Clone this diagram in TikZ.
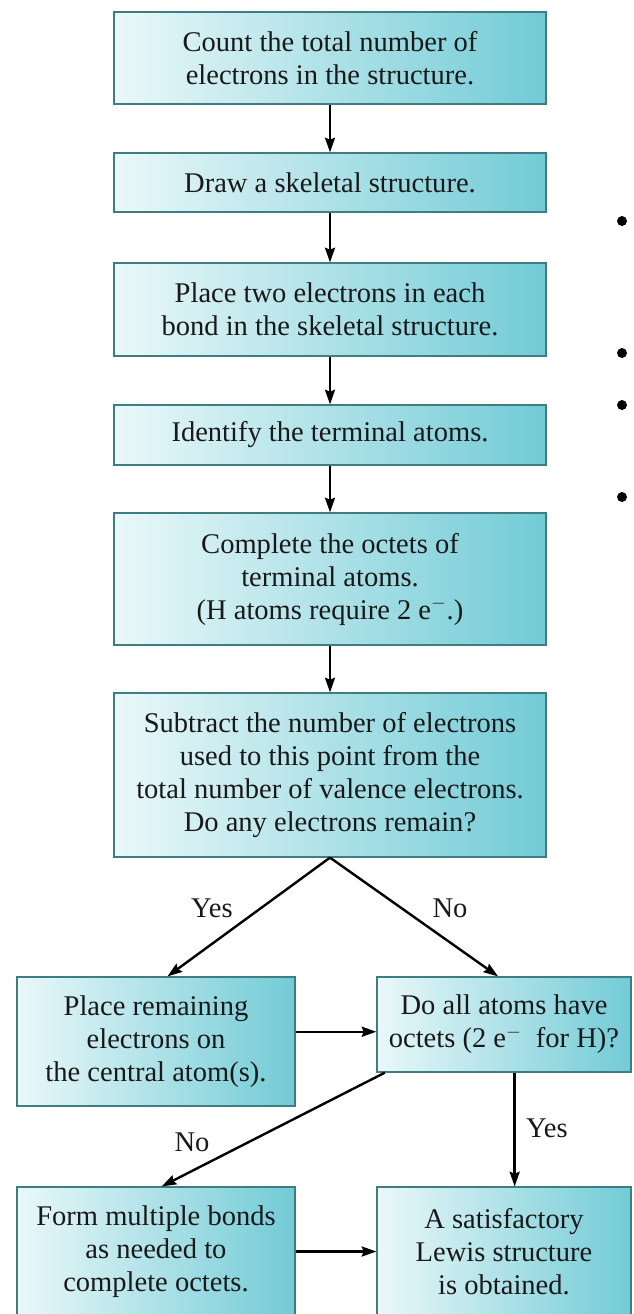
\documentclass[tikz,border=0pt]{standalone}
\usepackage{fontspec}
\setmainfont{Liberation Serif}
\usetikzlibrary{arrows.meta}

\definecolor{boxlight}{RGB}{234,248,249}
\definecolor{boxdark}{RGB}{114,203,214}
\definecolor{boxline}{RGB}{62,125,130}
\definecolor{inkgray}{RGB}{25,25,25}

\begin{document}
\begin{tikzpicture}[x=0.75pt, y=-0.75pt, text=inkgray,
        font=\fontsize{21.4}{24.75}\selectfont,
        >={Stealth[length=11pt,width=7.5pt,inset=1.5pt]},
        flow/.style={->, line width=1.8pt, black},
        stepbox/.style={draw=boxline, line width=0.9pt, left color=boxlight, right color=boxdark, align=center, inner sep=0pt}]
            \path [use as bounding box, fill=white] (0, 0) rectangle (633, 1314);
            \node [stepbox, minimum width=324pt, minimum height=69pt] (count) at (330, 58) {Count the total number of\\electrons in the structure.};%
            \node [stepbox, minimum width=324pt, minimum height=44.25pt] (skeleton) at (330, 182.5) {Draw a skeletal structure.};%
            \node [stepbox, minimum width=324pt, minimum height=69.75pt] (bonds) at (330, 309.5) {Place two electrons in each\\bond in the skeletal structure.};%
            \node [stepbox, minimum width=324pt, minimum height=45pt] (terminal) at (330, 435) {Identify the terminal atoms.};%
            \node [stepbox, minimum width=324pt, minimum height=99pt] (complete) at (330, 579) {Complete the octets of\\terminal atoms.\\(H atoms require 2 e\textsuperscript{$-$}.)};%
            \node [stepbox, minimum width=324pt, minimum height=123pt] (subtract) at (330, 775) {Subtract the number of electrons\\used to this point from the\\total number of valence electrons.\\Do any electrons remain?};%
            \node [stepbox, minimum width=208.5pt, minimum height=96.75pt] (remain) at (156, 1041.5) {Place remaining\\electrons on\\the central atom(s).};%
            \node [stepbox, minimum width=190.5pt, minimum height=71.25pt] (octets) at (504, 1024.5) {Do all atoms have\\octets (2 e\textsuperscript{$-$}\ \ for H)?};%
            \node [stepbox, minimum width=208.5pt, minimum height=96.75pt] (multiple) at (156, 1251.5) {Form multiple bonds\\as needed to\\complete octets.};%
            \node [stepbox, minimum width=190.5pt, minimum height=96.75pt] (lewis) at (504, 1251.5) {A satisfactory\\Lewis structure\\is obtained.};%
            \draw [flow] (count) to (skeleton);
            \draw [flow] (skeleton) to (bonds);
            \draw [flow] (bonds) to (terminal);
            \draw [flow] (terminal) to (complete);
            \draw [flow] (complete) to (subtract);
            \draw [flow] (subtract.south) to (remain.80);
            \draw [flow] (subtract.south) to (octets.97);
            \draw [flow] (remain.4) to (remain.4 -| octets.west);
            \draw [flow] (octets.202) to (multiple.85);
            \draw [flow] ([xshift=8pt]octets.south) to ([xshift=8pt]lewis.north);
            \draw [flow] (multiple) to (lewis);
            \node (yes1) at (212, 908) {Yes};%
            \node (no1) at (450, 908) {No};%
            \node (no2) at (192, 1142) {No};%
            \node (yes2) at (547, 1128) {Yes};%
            \foreach \y in {221, 353, 405, 497}
                \fill [black] (622, \y) circle (5);
        \end{tikzpicture}
\end{document}
